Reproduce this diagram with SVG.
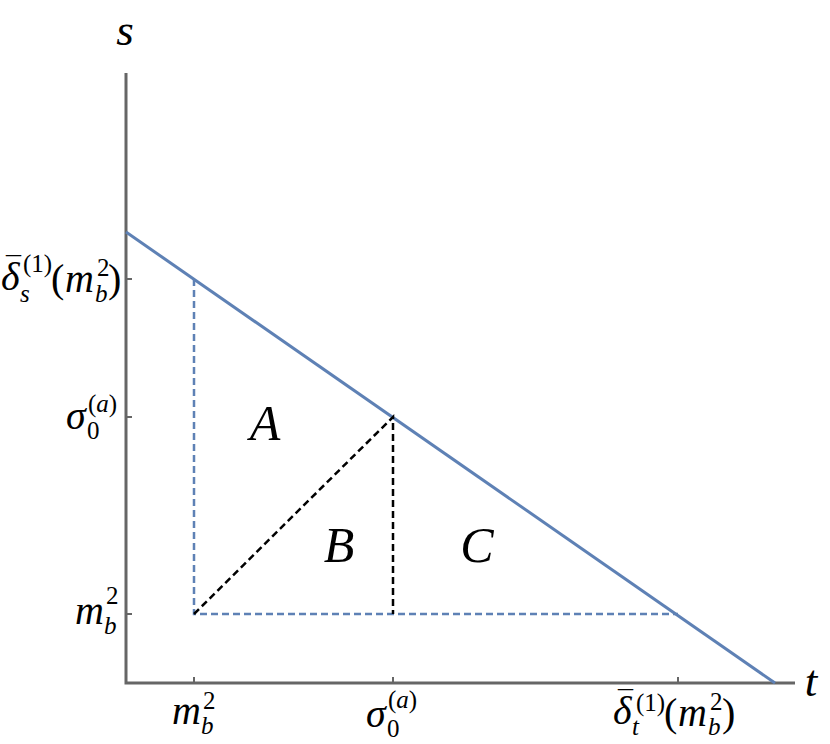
<svg xmlns="http://www.w3.org/2000/svg" width="830" height="744" viewBox="0 0 830 744">
<style>
.ax{stroke:#666;stroke-width:3;fill:none}
.tk{stroke:#666;stroke-width:2}
.blue{stroke:#5E81B5;stroke-width:3;fill:none}
.bd{stroke:#5E81B5;stroke-width:2.5;stroke-dasharray:7,4;fill:none}
.kd{stroke:#000;stroke-width:2.5;stroke-dasharray:7,4;fill:none}
text{font-family:"Liberation Serif","DejaVu Serif",serif;fill:#000;font-size:40px}
.it{font-style:italic}
.sm{font-size:25px}
.bar{font-size:30px;font-style:normal}
.big{font-size:50px;font-style:italic}
.ax-l{font-size:45px;font-style:italic}
</style>
<rect width="830" height="744" fill="#fff"/>
<g id="axes">
<path class="ax" d="M126,73 V683 H795"/>
<path class="tk" d="M126,279 h6 M126,417 h6 M126,614 h6 M194,683 v-6 M393,683 v-6 M678,683 v-6"/>
</g>
<g id="connectors">
<path class="blue" d="M126,232 L775,683"/>
<path class="bd" d="M194,279 V614 H678"/>
<path class="kd" d="M194,614 L393,417 V614"/>
</g>
<g id="regionA"><text class="big" x="265" y="440" text-anchor="middle">A</text></g>
<g id="regionB"><text class="big" x="339" y="562" text-anchor="middle">B</text></g>
<g id="regionC"><text class="big" x="477" y="562" text-anchor="middle">C</text></g>
<g id="label-s"><text class="ax-l" x="125" y="45" text-anchor="middle">s</text></g>
<g id="label-t"><text class="ax-l" x="811" y="696" text-anchor="middle">t</text></g>
<g id="ylabel-delta">
<text class="it" x="1" y="290">δ<tspan class="bar" x="6" y="277">¯</tspan></text>
<text class="sm it" x="20" y="302">s</text>
<text class="sm" x="23" y="272">(1)</text>
<text x="51" y="292">(</text>
<text class="it" x="65" y="292">m</text>
<text class="sm it" x="95" y="302">b</text>
<text class="sm" x="97" y="276">2</text>
<text x="108" y="292">)</text>
</g>
<g id="ylabel-sigma">
<text class="it" x="66" y="429">σ</text>
<text class="sm" x="87" y="439">0</text>
<text class="sm" x="88" y="412">(<tspan class="it">a</tspan>)</text>
</g>
<g id="ylabel-m">
<text class="it" x="75" y="624">m</text>
<text class="sm it" x="104" y="634">b</text>
<text class="sm" x="106" y="604">2</text>
</g>
<g id="xlabel-m">
<text class="it" x="172" y="724">m</text>
<text class="sm it" x="201" y="734">b</text>
<text class="sm" x="203" y="709">2</text>
</g>
<g id="xlabel-sigma">
<text class="it" x="366" y="727">σ</text>
<text class="sm" x="387" y="737">0</text>
<text class="sm" x="388" y="708">(<tspan class="it">a</tspan>)</text>
</g>
<g id="xlabel-delta">
<text class="it" x="613" y="724">δ<tspan class="bar" x="618" y="711">¯</tspan></text>
<text class="sm it" x="632" y="735">t</text>
<text class="sm" x="636" y="711">(1)</text>
<text x="664" y="726">(</text>
<text class="it" x="678" y="726">m</text>
<text class="sm it" x="708" y="735">b</text>
<text class="sm" x="710" y="710">2</text>
<text x="722" y="726">)</text>
</g>
</svg>
